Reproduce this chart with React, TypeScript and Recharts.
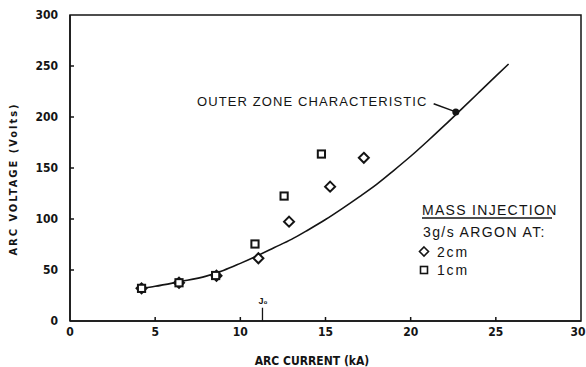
import React from "react";
import {
  ComposedChart,
  Line,
  Scatter,
  XAxis,
  YAxis,
  ReferenceArea,
  ReferenceDot,
  ReferenceLine,
  Label,
} from "recharts";

const xTicks = [0, 5, 10, 15, 20, 25, 30];
const yTicks = [0, 50, 100, 150, 200, 250, 300];

const curveX = [4.2, 5, 6.4, 8, 9, 10, 11, 12, 13, 14, 15, 16, 17, 18, 19, 20, 21, 22, 23, 24, 25, 25.75];
const curveV = [32, 34, 38.5, 44, 49.5, 56.5, 64, 72, 80, 89.5, 99.5, 110.5, 122, 134, 147.5, 161.5, 176.5, 192, 208, 224, 240, 252];

const diamondX = [4.2, 6.4, 8.6, 11.06, 12.86, 15.27, 17.25];
const diamondV = [32, 37.5, 44.4, 61.5, 97.4, 131.7, 160];

const squareX = [4.2, 6.4, 8.55, 10.86, 12.57, 14.76];
const squareV = [32, 37.5, 44.6, 75.5, 122.5, 163.7];

const markedPoint = { x: 22.65, v: 205 };
const j0 = 11.3;

const curve = curveX.map((x, i) => ({ x, v: curveV[i] }));
const diamonds = diamondX.map((x, i) => ({ x, v: diamondV[i] }));
const squares = squareX.map((x, i) => ({ x, v: squareV[i] }));

const INK = "#141414";
const TICK_FONT = "'Liberation Sans Narrow', 'DejaVu Sans Condensed', sans-serif";
const TEXT_FONT = "'Liberation Sans', Arial, sans-serif";

const DiamondShape = (props: any) => {
  const { cx, cy } = props;
  const r = 5;
  return (
    <polygon
      points={`${cx},${cy - r} ${cx + r},${cy} ${cx},${cy + r} ${cx - r},${cy}`}
      fill="#fff"
      stroke={INK}
      strokeWidth={2}
    />
  );
};

const SquareShape = (props: any) => {
  const { cx, cy } = props;
  const r = 3.6;
  return <rect x={cx - r} y={cy - r} width={r * 2} height={r * 2} fill="#fff" stroke={INK} strokeWidth={2} />;
};

const XTick = (props: any) => {
  const { x, y, payload } = props;
  return (
    <g>
      {payload.value !== 0 && payload.value !== 30 && (
        <line x1={x} y1={y} x2={x} y2={y - 4} stroke={INK} strokeWidth={1.5} />
      )}
      <text x={x} y={y + 15} textAnchor="middle" fontFamily={TICK_FONT} fontWeight={700} fontSize={12} fill={INK}>
        {payload.value}
      </text>
    </g>
  );
};

const YTick = (props: any) => {
  const { x, y, payload } = props;
  return (
    <g>
      {payload.value !== 0 && payload.value !== 300 && (
        <line x1={x} y1={y} x2={x + 4} y2={y} stroke={INK} strokeWidth={1.5} />
      )}
      <text x={x - 12} y={y + 4} textAnchor="end" fontFamily={TICK_FONT} fontWeight={700} fontSize={12} fill={INK}>
        {payload.value}
      </text>
    </g>
  );
};

export default function App() {
  return (
    <div style={{ position: "relative", width: 586, height: 367, background: "#fff" }}>
      <style>{`body{margin:0;background:#fff}`}</style>
      <ComposedChart width={586} height={367} margin={{ top: 15, right: 5, bottom: 0, left: 0 }}>
        <XAxis
          dataKey="x"
          type="number"
          domain={[0, 30]}
          ticks={xTicks}
          tick={<XTick />}
          tickLine={false}
          tickSize={0}
          tickMargin={0}
          height={46}
          axisLine={{ stroke: INK, strokeWidth: 1.5 }}
          allowDataOverflow
        >
          <Label
            content={() => (
              <text x={312} y={365} textAnchor="middle" fontFamily={TICK_FONT} fontWeight={700} fontSize={12} fill={INK}>
                ARC CURRENT (kA)
              </text>
            )}
          />
        </XAxis>
        <YAxis
          type="number"
          domain={[0, 300]}
          ticks={yTicks}
          tick={<YTick />}
          tickLine={false}
          tickSize={0}
          tickMargin={0}
          width={70}
          axisLine={{ stroke: INK, strokeWidth: 1.5 }}
          allowDataOverflow
        >
          <Label
            content={() => (
              <text
                x={17}
                y={179}
                transform="rotate(-90 17 179)"
                textAnchor="middle"
                fontFamily={TICK_FONT}
                fontWeight={700}
                fontSize={11}
                letterSpacing={2}
                fill={INK}
              >
                ARC VOLTAGE (Volts)
              </text>
            )}
          />
        </YAxis>

        <ReferenceArea x1={0} x2={30} y1={0} y2={300} fill="none" stroke={INK} strokeWidth={1.5} ifOverflow="visible" />

        <ReferenceLine
          segment={[
            { x: j0, y: 0 },
            { x: j0, y: 13 },
          ]}
          stroke={INK}
          strokeWidth={1.3}
        />

        <Line
          data={curve}
          dataKey="v"
          type="monotone"
          stroke={INK}
          strokeWidth={1.6}
          dot={false}
          activeDot={false}
          isAnimationActive={false}
        />
        <Scatter data={diamonds} dataKey="v" shape={<DiamondShape />} isAnimationActive={false} />
        <Scatter data={squares} dataKey="v" shape={<SquareShape />} isAnimationActive={false} />

        <ReferenceLine
          segment={[
            { x: 21.35, y: 213 },
            { x: markedPoint.x, y: markedPoint.v },
          ]}
          stroke={INK}
          strokeWidth={1.5}
        />
        <ReferenceDot x={markedPoint.x} y={markedPoint.v} r={3.5} fill={INK} stroke="none" />
      </ComposedChart>

      <svg
        width={586}
        height={367}
        style={{ position: "absolute", left: 0, top: 0, pointerEvents: "none" }}
      >
        <text x={263} y={304} textAnchor="middle" fontFamily={TEXT_FONT} fontSize={9} fontWeight={700} fill={INK}>
          J₀
        </text>
        <text x={197} y={106} fontFamily={TEXT_FONT} fontSize={13} letterSpacing={1.1} fill={INK}>
          OUTER ZONE CHARACTERISTIC
        </text>

        <text x={422} y={215} fontFamily={TEXT_FONT} fontSize={14} letterSpacing={1.3} fill={INK}>
          MASS INJECTION
        </text>
        <line x1={422} y1={218} x2={552} y2={218} stroke={INK} strokeWidth={1.5} />
        <text x={423} y={237} fontFamily={TEXT_FONT} fontSize={14} letterSpacing={1.4} fill={INK}>
          3g/s ARGON AT:
        </text>
        <polygon points="424,247 428.5,251.5 424,256 419.5,251.5" fill="#fff" stroke={INK} strokeWidth={1.6} />
        <text x={437} y={257} fontFamily={TEXT_FONT} fontSize={14} letterSpacing={1.8} fill={INK}>
          2cm
        </text>
        <rect x={420.5} y={266.5} width={7} height={7} fill="#fff" stroke={INK} strokeWidth={1.6} />
        <text x={437} y={275} fontFamily={TEXT_FONT} fontSize={14} letterSpacing={1.8} fill={INK}>
          1cm
        </text>
      </svg>
    </div>
  );
}
